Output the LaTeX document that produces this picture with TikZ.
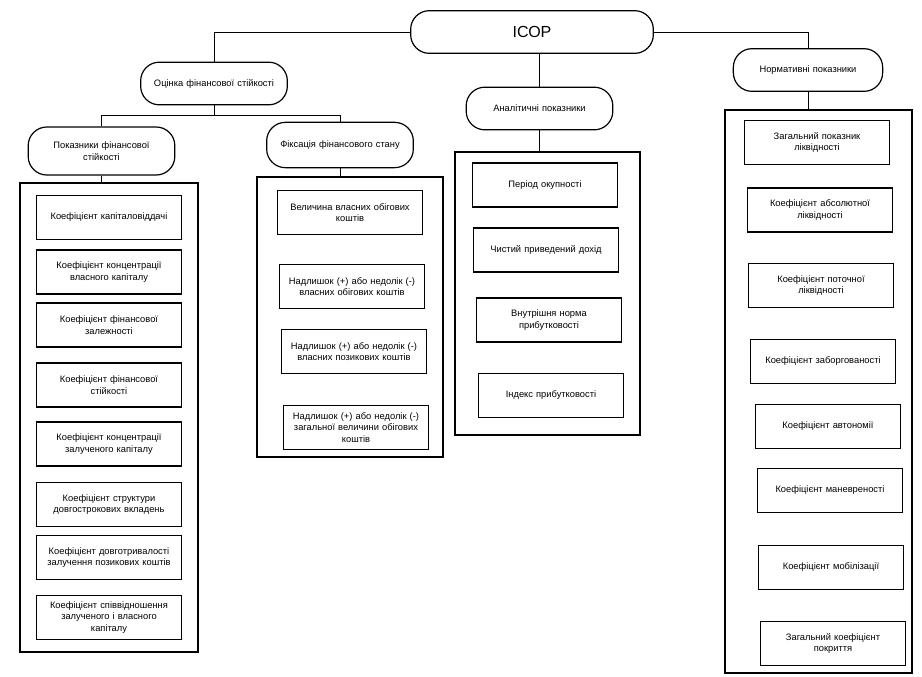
\documentclass[tikz,border=0pt]{standalone}
\usepackage{fontspec}
\setmainfont{Liberation Sans}
\begin{document}
\begin{tikzpicture}[x=0.75pt, y=-0.75pt,
    every node/.style={font=\fontsize{7}{8.5}\selectfont, align=center},
    head/.style={draw, line width=0.9pt, rounded corners=14pt, minimum width=110pt, minimum height=32pt, text width=100pt},
    cont/.style={draw, line width=1.1pt},
    item/.style={draw, line width=0.9pt, minimum width=109pt, minimum height=33pt, text width=98pt},
    link/.style={line width=0.5pt}]
    \useasboundingbox (0,0) rectangle (922,676);
    \node[head, minimum width=182pt, font=\fontsize{12}{14}\selectfont] (icop) at (532,32) {ІСОР};
    \node[head] (otsinka) at (214,83.5) {Оцінка фінансової стійкості};
    \node[head, minimum height=36pt] (pokaz) at (101.5,151) {Показники фінансової\\стійкості};
    \node[head, minimum height=34pt] (fiks) at (340,145) {Фіксація фінансового стану};
    \node[head] (analit) at (539.5,108.5) {Аналітичні показники};
    \node[head, minimum width=112pt] (normat) at (808,70) {Нормативні показники};
    \node[cont, minimum width=133.5pt, minimum height=352pt] (boxA) at (109,417.5) {};
    \node[cont, minimum width=139.5pt, minimum height=210pt] (boxB) at (350,317) {};
    \node[cont, minimum width=139pt, minimum height=212pt] (boxC) at (547.5,293.5) {};
    \node[cont, minimum width=140pt, minimum height=422pt] (boxD) at (818.5,391.5) {};
    \node[item] (a1) at (109,217.5) {Коефіцієнт капіталовіддачі};
    \node[item] (a2) at (109,272) {Коефіцієнт концентрації\\власного капіталу};
    \node[item] (a3) at (109,325) {Коефіцієнт фінансової\\залежності};
    \node[item] (a4) at (109,385) {Коефіцієнт фінансової\\стійкості};
    \node[item] (a5) at (109,444) {Коефіцієнт концентрації\\залученого капіталу};
    \node[item] (a6) at (109,504.5) {Коефіцієнт структури\\довгострокових вкладень};
    \node[item] (a7) at (109,557.5) {Коефіцієнт довготривалості\\залучення позикових коштів};
    \node[item] (a8) at (109,617.5) {Коефіцієнт співвідношення\\залученого і власного\\капіталу};
    \node[item] (b1) at (350,212.5) {Величина власних обігових\\коштів};
    \node[item] (b2) at (352,286.5) {Надлишок (+) або недолік (-)\\власних обігових коштів};
    \node[item] (b3) at (354,351.5) {Надлишок (+) або недолік (-)\\власних позикових коштів};
    \node[item] (b4) at (356,427.5) {Надлишок (+) або недолік (-)\\загальної величини обігових\\коштів};
    \node[item] (c1) at (545,185) {Період окупності};
    \node[item] (c2) at (546,250) {Чистий приведений дохід};
    \node[item] (c3) at (549,320) {Внутрішня норма\\прибутковості};
    \node[item] (c4) at (551,395.5) {Індекс прибутковості};
    \node[item] (d1) at (817,142.5) {Загальний показник\\ліквідності};
    \node[item] (d2) at (820,210) {Коефіцієнт абсолютної\\ліквідності};
    \node[item] (d3) at (821,285.5) {Коефіцієнт поточної\\ліквідності};
    \node[item] (d4) at (823,361.5) {Коефіцієнт заборгованості};
    \node[item] (d5) at (828,426.5) {Коефіцієнт автономії};
    \node[item] (d6) at (830,490.5) {Коефіцієнт маневреності};
    \node[item] (d7) at (831,567.5) {Коефіцієнт мобілізації};
    \node[item] (d8) at (833,643.5) {Загальний коефіцієнт\\покриття};
    \draw[link] (icop.west) -| (otsinka.north);
    \draw[link] (icop.east) -| (normat.north);
    \draw[link] (analit.north) -- (analit.north |- icop.south);
    \draw[link] (otsinka.south) -- ++(0,10) coordinate (split);
    \draw[link] (split) -| (pokaz.north);
    \draw[link] (split) -| (fiks.north);
    \draw[link] (pokaz.south) -- (pokaz.south |- boxA.north);
    \draw[link] (fiks.south) -- (fiks.south |- boxB.north);
    \draw[link] (analit.south) -- (analit.south |- boxC.north);
    \draw[link] (normat.south) -- (normat.south |- boxD.north);
\end{tikzpicture}
\end{document}
